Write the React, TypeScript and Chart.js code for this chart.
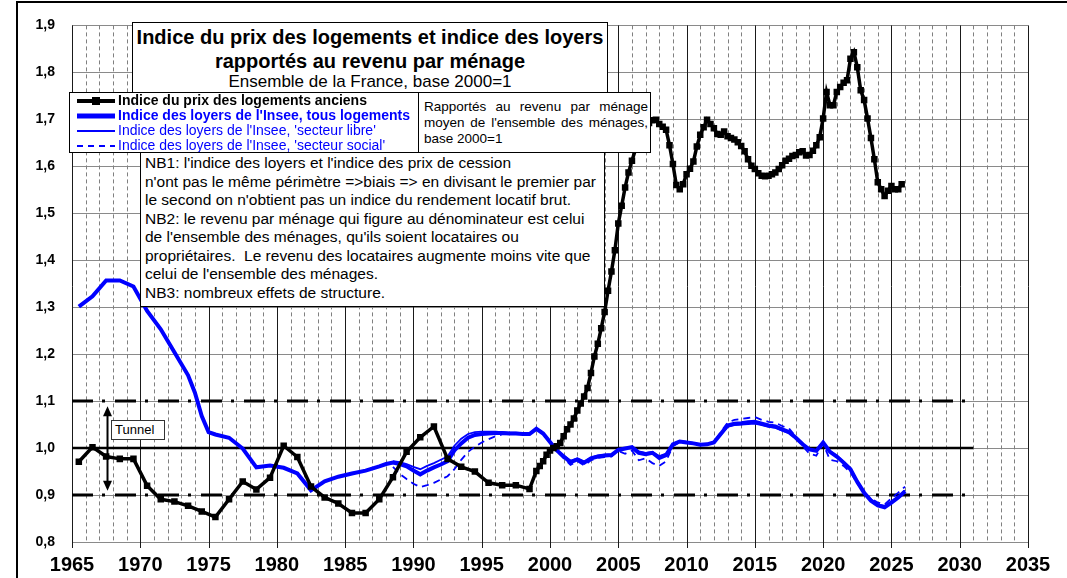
import React, { useEffect, useRef } from "react";
import { Chart, registerables } from "chart.js";

Chart.register(...registerables);

const FONT = "'Liberation Sans', Arial, Helvetica, sans-serif";
const BLUE = "#0000FF";

// ---------- axis ticks ----------
const xTickValues = [1965, 1970, 1975, 1980, 1985, 1990, 1995, 2000, 2005, 2010, 2015, 2020, 2025, 2030, 2035];
const xTickLabels = ["1965", "1970", "1975", "1980", "1985", "1990", "1995", "2000", "2005", "2010", "2015", "2020", "2025", "2030", "2035"];
const yTickValues = [0.8, 0.9, 1.0, 1.1, 1.2, 1.3, 1.4, 1.5, 1.6, 1.7, 1.8, 1.9];
const yTickLabels = ["0,8", "0,9", "1,0", "1,1", "1,2", "1,3", "1,4", "1,5", "1,6", "1,7", "1,8", "1,9"];

// ---------- house price index (old dwellings) / income ----------
const priceYears = [
  1965.5, 1966.5, 1967.5, 1968.5, 1969.5, 1970.5, 1971.5, 1972.5, 1973.5, 1974.5,
  1975.5, 1976.5, 1977.5, 1978.5, 1979.5, 1980.5, 1981.5, 1982.5, 1983.5, 1984.5,
  1985.5, 1986.5, 1987.5, 1988.5, 1989.5, 1990.5, 1991.5, 1992.5, 1993.5, 1994.5,
  1995.5, 1996.5, 1997.5, 1998.5,
  1999, 1999.25, 1999.5, 1999.75, 2000, 2000.25, 2000.5, 2000.75,
  2001, 2001.25, 2001.5, 2001.75, 2002, 2002.25, 2002.5, 2002.75,
  2003, 2003.25, 2003.5, 2003.75, 2004, 2004.25, 2004.5, 2004.75,
  2005, 2005.25, 2005.5, 2005.75, 2006, 2006.25, 2006.5, 2006.75,
  2007, 2007.25, 2007.5, 2007.75, 2008, 2008.25, 2008.5, 2008.75,
  2009, 2009.25, 2009.5, 2009.75, 2010, 2010.25, 2010.5, 2010.75,
  2011, 2011.25, 2011.5, 2011.75, 2012, 2012.25, 2012.5, 2012.75,
  2013, 2013.25, 2013.5, 2013.75, 2014, 2014.25, 2014.5, 2014.75,
  2015, 2015.25, 2015.5, 2015.75, 2016, 2016.25, 2016.5, 2016.75,
  2017, 2017.25, 2017.5, 2017.75, 2018, 2018.25, 2018.5, 2018.75,
  2019, 2019.25, 2019.5, 2019.75, 2020, 2020.25, 2020.5, 2020.75,
  2021, 2021.25, 2021.5, 2021.75, 2022, 2022.25, 2022.5, 2022.75,
  2023, 2023.25, 2023.5, 2023.75, 2024, 2024.25, 2024.5, 2024.75,
  2025, 2025.25, 2025.5, 2025.75,
];
const priceValues = [
  0.971, 1.002, 0.982, 0.977, 0.977, 0.920, 0.891, 0.886, 0.877, 0.865,
  0.853, 0.891, 0.929, 0.912, 0.937, 1.005, 0.981, 0.918, 0.895, 0.882,
  0.862, 0.862, 0.891, 0.938, 0.992, 1.023, 1.046, 0.977, 0.960, 0.950,
  0.926, 0.921, 0.921, 0.913,
  0.951, 0.962, 0.972, 0.986, 0.995, 1.000, 1.004, 1.011,
  1.025, 1.040, 1.050, 1.063, 1.080, 1.095, 1.110, 1.128,
  1.160, 1.195, 1.222, 1.255, 1.290, 1.335, 1.376, 1.421,
  1.478, 1.516, 1.555, 1.587, 1.612, 1.635, 1.655, 1.670,
  1.682, 1.692, 1.698, 1.699, 1.690, 1.684, 1.678, 1.645,
  1.605, 1.560, 1.551, 1.562, 1.583, 1.595, 1.610, 1.642,
  1.667, 1.683, 1.699, 1.690, 1.681, 1.669, 1.667, 1.674,
  1.664, 1.660, 1.657, 1.651, 1.643, 1.632, 1.615, 1.601,
  1.594, 1.585, 1.580, 1.579, 1.580, 1.583, 1.587, 1.594,
  1.602, 1.612, 1.616, 1.622, 1.624, 1.630, 1.632, 1.623,
  1.624, 1.633, 1.645, 1.662, 1.702, 1.758, 1.730, 1.730,
  1.758, 1.769, 1.778, 1.783, 1.829, 1.843, 1.811, 1.762,
  1.741, 1.702, 1.660, 1.615, 1.566, 1.551, 1.537, 1.548,
  1.558, 1.551, 1.551, 1.562,
];

// ---------- Insee rent index / income ----------
const rentEarlyYears = [
  1965.5, 1966.5, 1967.5, 1968.5, 1969.5, 1970.5, 1971.5, 1972.5, 1973.5, 1974,
  1974.5, 1975, 1975.5, 1976.5, 1977.5, 1978.5, 1979.5, 1980.5, 1981.5, 1982.5,
  1983.5, 1984.5, 1985.5, 1986.5, 1987.5, 1988,
];
const rentEarlyAll = [
  1.301, 1.323, 1.357, 1.357, 1.344, 1.292, 1.253, 1.204, 1.155, 1.118,
  1.068, 1.034, 1.029, 1.022, 0.999, 0.959, 0.963, 0.958, 0.946, 0.910,
  0.929, 0.939, 0.946, 0.952, 0.961, 0.966,
];
const rentYears = [
  1988.5, 1989, 1989.5, 1990, 1990.5, 1991, 1991.5, 1992, 1992.5, 1993,
  1993.5, 1994, 1994.5, 1995, 1995.5, 1996, 1996.5, 1997, 1997.5, 1998,
  1998.5, 1999, 1999.5, 2000, 2000.5, 2001, 2001.5, 2002, 2002.5, 2003,
  2003.5, 2004, 2004.5, 2005, 2005.5, 2006, 2006.5, 2007, 2007.5, 2008,
  2008.5, 2009, 2009.5, 2010, 2010.5, 2011, 2011.5, 2012, 2012.5, 2013,
  2013.5, 2014, 2014.5, 2015, 2015.5, 2016, 2016.5, 2017, 2017.5, 2018,
  2018.5, 2019, 2019.5, 2020, 2020.5, 2021, 2021.5, 2022, 2022.5, 2023,
  2023.5, 2024, 2024.5, 2025, 2025.5, 2026,
];
const rentAll = [
  0.969, 0.966, 0.961, 0.952, 0.944, 0.952, 0.959, 0.965, 0.972, 0.995,
  1.010, 1.022, 1.028, 1.030, 1.031, 1.032, 1.032, 1.031, 1.031, 1.030,
  1.030, 1.041, 1.031, 1.013, 0.995, 0.982, 0.970, 0.976, 0.969, 0.978,
  0.982, 0.984, 0.985, 0.996, 0.999, 1.002, 0.990, 0.987, 0.990, 0.979,
  0.985, 1.008, 1.014, 1.012, 1.010, 1.007, 1.008, 1.012, 1.030, 1.048,
  1.052, 1.053, 1.055, 1.056, 1.052, 1.048, 1.046, 1.040, 1.034, 1.022,
  1.008, 0.997, 0.994, 1.012, 0.992, 0.982, 0.969, 0.955, 0.928, 0.905,
  0.888, 0.878, 0.874, 0.884, 0.895, 0.908,
];
const rentFree = [
  0.972, 0.970, 0.966, 0.960, 0.955, 0.962, 0.968, 0.975, 0.982, 1.005,
  1.020, 1.030, 1.034, 1.035, 1.035, 1.035, 1.034, 1.033, 1.033, 1.032,
  1.031, 1.040, 1.030, 1.012, 0.996, 0.984, 0.973, 0.978, 0.971, 0.980,
  0.984, 0.986, 0.986, 0.997, 0.999, 1.003, 0.993, 0.990, 0.992, 0.983,
  0.988, 1.009, 1.015, 1.013, 1.011, 1.008, 1.009, 1.013, 1.028, 1.045,
  1.049, 1.050, 1.051, 1.052, 1.049, 1.045, 1.043, 1.037, 1.032, 1.020,
  1.007, 0.998, 0.996, 1.013, 0.994, 0.984, 0.971, 0.957, 0.930, 0.907,
  0.891, 0.880, 0.877, 0.886, 0.897, 0.910,
];
const rentSocial = [
  0.960, 0.945, 0.934, 0.924, 0.917, 0.921, 0.926, 0.933, 0.940, 0.955,
  0.975, 0.992, 1.003, 1.012, 1.019, 1.025, 1.029, 1.030, 1.030, 1.029,
  1.029, 1.040, 1.031, 1.012, 0.993, 0.978, 0.964, 0.972, 0.963, 0.974,
  0.979, 0.981, 0.982, 0.994, 0.988, 0.995, 0.974, 0.978, 0.968, 0.962,
  0.972, 1.004, 1.013, 1.012, 1.010, 1.006, 1.007, 1.012, 1.034, 1.054,
  1.060, 1.062, 1.064, 1.066, 1.060, 1.056, 1.054, 1.047, 1.042, 1.024,
  1.004, 0.988, 0.984, 1.009, 0.975, 0.972, 0.962, 0.948, 0.925, 0.905,
  0.893, 0.884, 0.880, 0.893, 0.905, 0.918,
];

// ---------- "tunnel" reference lines ----------
const tunnelYears = [1965, 2031];
const tunnelHigh = [1.1, 1.1];
const tunnelMid = [1.0, 1.0];
const tunnelLow = [0.9, 0.9];
const tunnelArrowYear = 1967.6;
const tunnelArrowRange = [0.909, 1.089];

const pts = (xs: number[], ys: number[]) => xs.map((x, i) => ({ x, y: ys[i] }));

const gridPlugin = {
  id: "customGrid",
  beforeDatasetsDraw(chart: any) {
    const { ctx, chartArea: a, scales } = chart;
    const xs = scales.x;
    const ys = scales.y;
    ctx.save();
    // horizontal grid
    ctx.strokeStyle = "#8a8a8a";
    ctx.lineWidth = 1;
    for (const v of yTickValues) {
      const py = Math.round(ys.getPixelForValue(v)) + 0.5;
      ctx.beginPath();
      ctx.moveTo(a.left, py);
      ctx.lineTo(a.right, py);
      ctx.stroke();
    }
    // yearly dashed verticals
    ctx.setLineDash([4, 3]);
    ctx.strokeStyle = "#808080";
    for (let yr = xs.min + 1; yr < xs.max; yr++) {
      if (yr % 5 === 0) continue;
      const px = Math.round(xs.getPixelForValue(yr)) + 0.5;
      ctx.beginPath();
      ctx.moveTo(px, a.top);
      ctx.lineTo(px, a.bottom);
      ctx.stroke();
    }
    ctx.setLineDash([]);
    // 5-year solid verticals and tick marks
    ctx.strokeStyle = "#1a1a1a";
    for (const v of xTickValues) {
      const px = Math.round(xs.getPixelForValue(v)) + 0.5;
      ctx.beginPath();
      ctx.moveTo(px, a.top);
      ctx.lineTo(px, a.bottom + 6);
      ctx.stroke();
    }
    ctx.restore();
  },
  afterDatasetsDraw(chart: any) {
    const { ctx, scales } = chart;
    const px = scales.x.getPixelForValue(tunnelArrowYear);
    const yTop = scales.y.getPixelForValue(tunnelArrowRange[1]);
    const yBot = scales.y.getPixelForValue(tunnelArrowRange[0]);
    ctx.save();
    ctx.strokeStyle = "#000";
    ctx.fillStyle = "#000";
    ctx.lineWidth = 2;
    ctx.beginPath();
    ctx.moveTo(px, yTop + 8);
    ctx.lineTo(px, yBot - 8);
    ctx.stroke();
    ctx.beginPath();
    ctx.moveTo(px, yTop);
    ctx.lineTo(px - 4.5, yTop + 10);
    ctx.lineTo(px + 4.5, yTop + 10);
    ctx.closePath();
    ctx.fill();
    ctx.beginPath();
    ctx.moveTo(px, yBot);
    ctx.lineTo(px - 4.5, yBot - 10);
    ctx.lineTo(px + 4.5, yBot - 10);
    ctx.closePath();
    ctx.fill();
    ctx.restore();
  },
};

const boxBase: React.CSSProperties = {
  position: "absolute",
  background: "#fff",
  border: "1px solid #000",
  boxSizing: "border-box",
  color: "#000",
};

function LegendRow(props: { symbol: React.ReactNode; text: string; color: string; bold: boolean }) {
  return (
    <div style={{ display: "flex", alignItems: "center", height: 15, whiteSpace: "nowrap" }}>
      <div style={{ width: 38, marginLeft: 7, marginRight: 3, height: 12, display: "flex" }}>{props.symbol}</div>
      <span style={{ fontSize: 14, fontWeight: props.bold ? "bold" : "normal", color: props.color, lineHeight: "15px" }}>
        {props.text}
      </span>
    </div>
  );
}

export default function App() {
  const ref = useRef<HTMLCanvasElement>(null);

  useEffect(() => {
    if (!ref.current) return;
    const chart = new Chart(ref.current, {
      type: "line",
      data: {
        datasets: [
          {
            label: "Indice du prix des logements anciens",
            data: pts(priceYears, priceValues),
            borderColor: "#000",
            backgroundColor: "#000",
            borderWidth: 3.5,
            pointStyle: "rect",
            pointRadius: 4.6,
            pointBorderWidth: 0,
            pointBackgroundColor: "#000",
            tension: 0,
          },
          {
            label: "Indice des loyers de l'Insee, tous logements",
            data: [...pts(rentEarlyYears, rentEarlyAll), ...pts(rentYears, rentAll)],
            borderColor: BLUE,
            borderWidth: 4,
            pointRadius: 0,
            tension: 0,
          },
          {
            label: "Indice des loyers de l'Insee, 'secteur libre'",
            data: pts(rentYears, rentFree),
            borderColor: BLUE,
            borderWidth: 1.8,
            pointRadius: 0,
            tension: 0,
          },
          {
            label: "Indice des loyers de l'Insee, 'secteur social'",
            data: pts(rentYears, rentSocial),
            borderColor: BLUE,
            borderWidth: 1.8,
            borderDash: [7, 5],
            pointRadius: 0,
            tension: 0,
          },
          {
            label: "1.0",
            data: pts(tunnelYears, tunnelMid),
            borderColor: "#000",
            borderWidth: 2.5,
            pointRadius: 0,
          },
          {
            label: "1.1",
            data: pts(tunnelYears, tunnelHigh),
            borderColor: "#000",
            borderWidth: 3,
            borderDash: [21, 9, 3, 10],
            pointRadius: 0,
          },
          {
            label: "0.9",
            data: pts(tunnelYears, tunnelLow),
            borderColor: "#000",
            borderWidth: 3,
            borderDash: [21, 9, 3, 10],
            pointRadius: 0,
          },
        ],
      },
      options: {
        animation: false,
        responsive: false,
        maintainAspectRatio: false,
        devicePixelRatio: 1,
        layout: { padding: { left: 0, right: 39, top: 19, bottom: 0 } },
        plugins: {
          legend: { display: false },
          tooltip: { enabled: false },
          title: { display: false },
        },
        scales: {
          x: {
            type: "linear",
            min: 1965,
            max: 2035,
            grid: { display: false, drawTicks: false },
            border: { display: false },
            afterBuildTicks: (s: any) => {
              s.ticks = xTickValues.map((v) => ({ value: v }));
            },
            afterFit: (s: any) => {
              s.height = 36;
            },
            ticks: {
              autoSkip: false,
              maxRotation: 0,
              padding: 11,
              color: "#000",
              font: { family: FONT, size: 20, weight: "bold" },
              callback: (_v: any, i: number) => xTickLabels[i],
            },
          },
          y: {
            type: "linear",
            min: 0.8,
            max: 1.9,
            grid: { display: false, drawTicks: false },
            border: { display: false },
            afterBuildTicks: (s: any) => {
              s.ticks = yTickValues.map((v) => ({ value: v }));
            },
            afterFit: (s: any) => {
              s.width = 72;
            },
            ticks: {
              autoSkip: false,
              padding: 17,
              color: "#000",
              font: { family: FONT, size: 14, weight: "bold" },
              callback: (_v: any, i: number) => yTickLabels[i],
            },
          },
        },
      } as any,
      plugins: [gridPlugin],
    });
    return () => chart.destroy();
  }, []);

  return (
    <div
      style={{
        position: "fixed",
        left: 0,
        top: 0,
        width: 1067,
        height: 578,
        background: "#fff",
        overflow: "hidden",
        fontFamily: FONT,
      }}
    >
      <canvas ref={ref} width={1067} height={578} style={{ position: "absolute", left: 0, top: 0, width: 1067, height: 578 }} />

      {/* outer frame */}
      <div
        style={{
          position: "absolute",
          left: 16,
          top: 1,
          width: 1100,
          height: 620,
          borderLeft: "2px solid #000",
          borderTop: "2px solid #000",
        }}
      />

      {/* title box */}
      <div style={{ ...boxBase, left: 132, top: 22, width: 476, height: 71, textAlign: "center", paddingTop: 2 }}>
        <div style={{ fontSize: 20, fontWeight: "bold", lineHeight: "24px", whiteSpace: "nowrap" }}>
          Indice du prix des logements et indice des loyers
        </div>
        <div style={{ fontSize: 20, fontWeight: "bold", lineHeight: "24px", whiteSpace: "nowrap" }}>
          rapportés au revenu par ménage
        </div>
        <div style={{ fontSize: 17, lineHeight: "18px", whiteSpace: "nowrap" }}>Ensemble de la France, base 2000=1</div>
      </div>

      {/* legend box */}
      <div style={{ ...boxBase, left: 69, top: 92, width: 350, height: 61, paddingTop: 0 }}>
        <LegendRow
          bold
          color="#000"
          text="Indice du prix des logements anciens"
          symbol={
            <svg width={38} height={12}>
              <line x1={0} y1={6} x2={38} y2={6} stroke="#000" strokeWidth={4} />
              <rect x={15} y={2} width={8} height={8} fill="#000" />
            </svg>
          }
        />
        <LegendRow
          bold
          color={BLUE}
          text="Indice des loyers de l'Insee, tous logements"
          symbol={
            <svg width={38} height={12}>
              <line x1={0} y1={6} x2={38} y2={6} stroke={BLUE} strokeWidth={5} />
            </svg>
          }
        />
        <LegendRow
          bold={false}
          color={BLUE}
          text="Indice des loyers de l'Insee, 'secteur libre'"
          symbol={
            <svg width={38} height={12}>
              <line x1={0} y1={6} x2={38} y2={6} stroke={BLUE} strokeWidth={2} />
            </svg>
          }
        />
        <LegendRow
          bold={false}
          color={BLUE}
          text="Indice des loyers de l'Insee, 'secteur social'"
          symbol={
            <svg width={38} height={12}>
              <line x1={0} y1={6} x2={38} y2={6} stroke={BLUE} strokeWidth={2} strokeDasharray="6,5" />
            </svg>
          }
        />
      </div>

      {/* "Rapportés au revenu" box */}
      <div
        style={{
          ...boxBase,
          left: 418,
          top: 92,
          width: 233,
          height: 61,
          paddingTop: 6,
          paddingLeft: 5,
          paddingRight: 2,
          fontSize: 13.5,
          lineHeight: "16px",
        }}
      >
        <div style={{ textAlign: "justify", textAlignLast: "justify", whiteSpace: "normal" } as any}>
          Rapportés au revenu par ménage
        </div>
        <div style={{ textAlign: "justify", textAlignLast: "justify", whiteSpace: "normal" } as any}>
          moyen de l'ensemble des ménages,
        </div>
        <div style={{ whiteSpace: "nowrap" }}>base 2000=1</div>
      </div>

      {/* NB box */}
      <div
        style={{
          ...boxBase,
          left: 140,
          top: 152,
          width: 465,
          height: 155,
          paddingTop: 1,
          paddingLeft: 4,
          fontSize: 15.5,
          lineHeight: "18.5px",
          whiteSpace: "nowrap",
        }}
      >
        <div>NB1: l'indice des loyers et l'indice des prix de cession</div>
        <div>n'ont pas le même périmètre =&gt;biais =&gt; en divisant le premier par</div>
        <div>le second on n'obtient pas un indice du rendement locatif brut.</div>
        <div>NB2: le revenu par ménage qui figure au dénominateur est celui</div>
        <div>de l'ensemble des ménages, qu'ils soient locataires ou</div>
        <div>propriétaires.&nbsp; Le revenu des locataires augmente moins vite que</div>
        <div>celui de l'ensemble des ménages.</div>
        <div>NB3: nombreux effets de structure.</div>
      </div>

      {/* Tunnel label */}
      <div
        style={{
          ...boxBase,
          left: 111,
          top: 420,
          width: 54,
          height: 20,
          fontSize: 13,
          lineHeight: "18px",
          paddingLeft: 3,
          border: "1px solid #333",
        }}
      >
        Tunnel
      </div>
    </div>
  );
}
